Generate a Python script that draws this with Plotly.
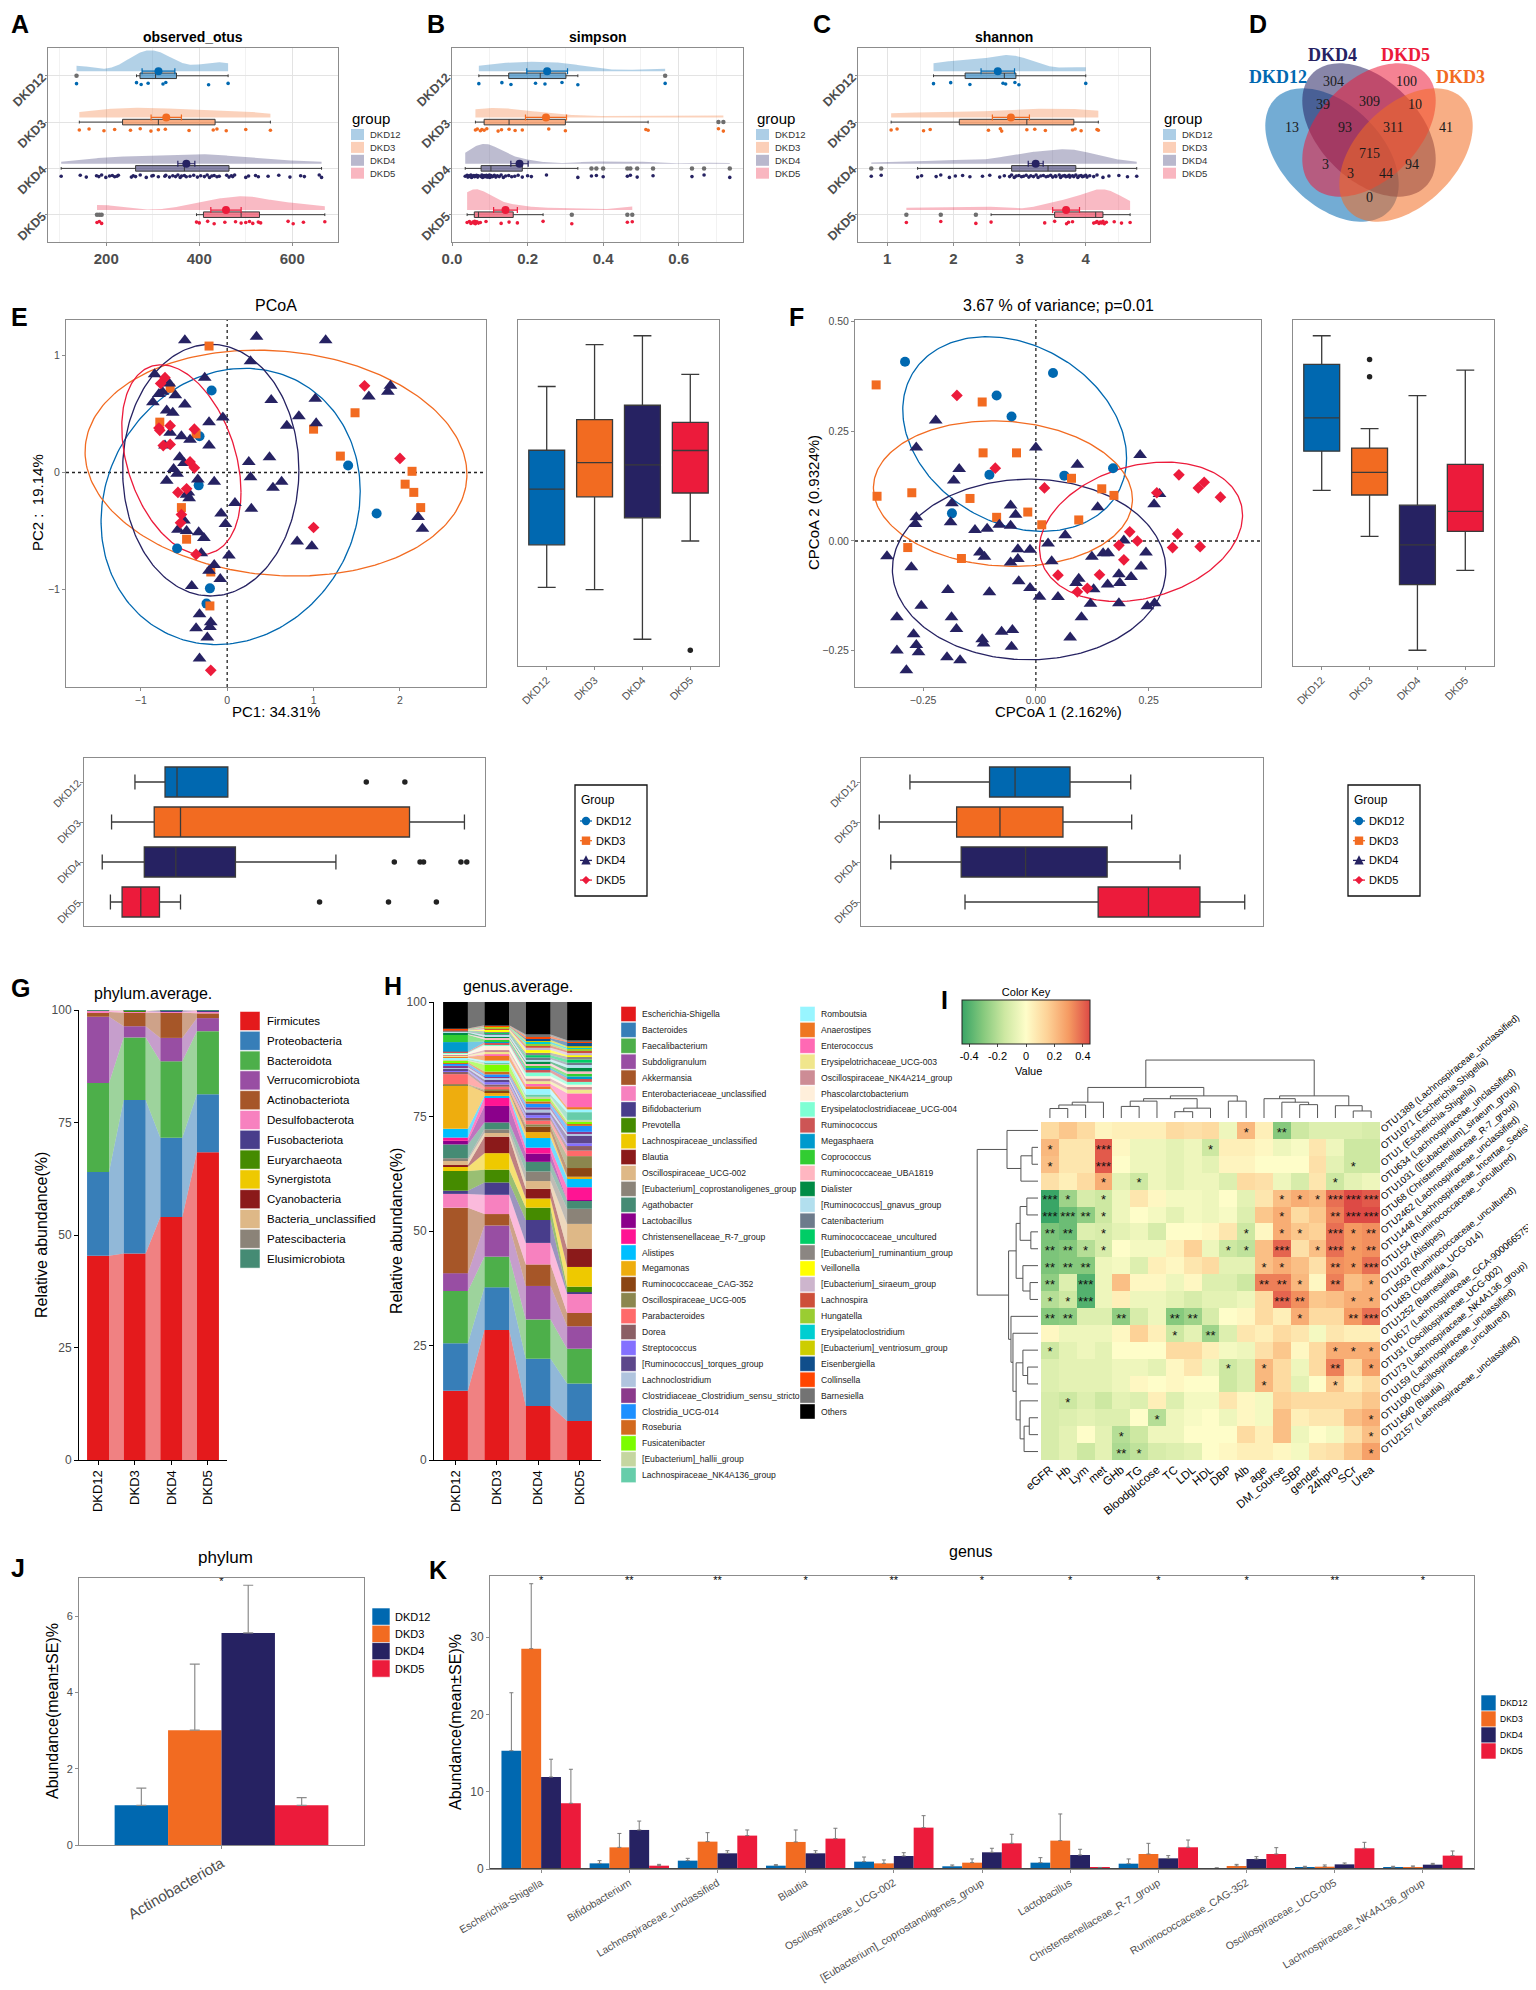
import numpy as np
import plotly.graph_objects as go

W, H = 1536, 1990
FONT = "Liberation Sans, Arial, Helvetica, sans-serif"
NARROW = "Liberation Sans Narrow, Liberation Sans, Arial, sans-serif"
SERIF = "Liberation Serif, Times New Roman, serif"

GROUPS = ["DKD12", "DKD3", "DKD4", "DKD5"]
GROUP_COLORS = ["#0068B0", "#F26B21", "#262262", "#EC1B3B"]

# ---------------- A-C alpha diversity ----------------
otus_DKD12 = [136, 265, 275, 290, 322, 328, 420, 462]
otus_DKD3 = [142, 163, 195, 218, 252, 273, 296, 312, 327, 378, 430, 438, 458, 500, 553]
otus_DKD4 = [103, 144, 157, 179, 184, 190, 199, 207, 213, 218, 223, 226, 254, 258, 263, 273, 286, 298, 301,
             312, 326, 328, 336, 343, 349, 354, 359, 362, 368, 372, 380, 388, 396, 403, 411, 417, 422, 427,
             432, 438, 443, 459, 464, 469, 472, 476, 500, 506, 521, 527, 548, 571, 595, 618, 626, 658, 663]
otus_DKD5 = [180, 185, 190, 394, 400, 418, 432, 455, 478, 490, 500, 508, 515, 527, 532, 591, 602, 624, 670]

simpson_DKD12 = [0.071, 0.132, 0.156, 0.221, 0.246, 0.291, 0.333, 0.564]
simpson_DKD3 = [0.062, 0.067, 0.075, 0.079, 0.085, 0.092, 0.122, 0.131, 0.151, 0.167, 0.186, 0.256, 0.30,
                0.513, 0.519, 0.705, 0.718]
simpson_DKD4 = [0.035, 0.04, 0.042, 0.045, 0.048, 0.05, 0.052, 0.055, 0.058, 0.06, 0.062, 0.065, 0.068, 0.07,
                0.077, 0.079, 0.081, 0.083, 0.085, 0.087, 0.089, 0.091, 0.093, 0.095, 0.097, 0.099, 0.1, 0.102,
                0.103, 0.106, 0.109, 0.112, 0.116, 0.12, 0.125, 0.13, 0.136, 0.142, 0.15, 0.158, 0.166, 0.175,
                0.186, 0.2, 0.21, 0.25, 0.333, 0.369, 0.382, 0.40, 0.464, 0.472, 0.49, 0.532, 0.635, 0.667, 0.735]
simpson_DKD5 = [0.04, 0.046, 0.05, 0.055, 0.058, 0.06, 0.062, 0.064, 0.066, 0.07, 0.075, 0.09, 0.13, 0.151,
                0.173, 0.241, 0.317, 0.464, 0.477]

shannon_DKD12 = [1.70, 1.96, 2.25, 2.75, 2.79, 2.93, 2.99, 4.0]
shannon_DKD3 = [1.06, 1.15, 1.55, 1.65, 2.53, 2.71, 2.73, 3.11, 3.23, 3.39, 3.80, 3.84, 3.93, 4.17, 4.19]
shannon_DKD4 = [0.76, 0.91, 1.46, 1.52, 1.74, 1.81, 1.94, 2.03, 2.14, 2.25, 2.44, 2.55, 2.70, 2.77, 2.85,
                2.88, 2.92, 2.95, 2.99, 3.03, 3.06, 3.10, 3.14, 3.17, 3.21, 3.25, 3.28, 3.32, 3.36, 3.40,
                3.43, 3.47, 3.50, 3.54, 3.55, 3.60, 3.62, 3.65, 3.68, 3.70, 3.72, 3.75, 3.76, 3.80, 3.82,
                3.85, 3.88, 3.90, 3.93, 3.95, 3.97, 4.00, 4.02, 4.06, 4.12, 4.17, 4.26, 4.35, 4.50, 4.63, 4.77]
shannon_DKD5 = [1.29, 1.81, 2.34, 2.57, 3.38, 3.53, 3.71, 3.74, 3.80, 4.12, 4.15, 4.17, 4.20, 4.22, 4.24,
                4.26, 4.28, 4.31, 4.43, 4.54, 4.67]

# ---------------- D Venn ----------------
venn_counts = [304, 100, 39, 309, 10, 13, 93, 311, 41, 715, 3, 94, 3, 44, 0]

# ---------------- E PCoA ----------------
E_DKD12_x = [-0.18, -0.32, -0.33, 1.40, 1.73, -0.58, -0.20, -0.24]
E_DKD12_y = [0.70, 0.31, -0.11, 0.06, -0.35, -0.65, -0.99, -1.12]
E_DKD3_x = [-0.21, -0.66, -0.78, -0.36, 1.00, 1.48, 1.31, 2.14, 2.06, 2.16, 2.24, -0.53, -0.47, -0.19, -0.20]
E_DKD3_y = [1.08, 0.72, 0.43, 0.33, 0.37, 0.51, 0.14, 0.01, -0.10, -0.17, -0.30, -0.30, -0.57, -0.85, -1.14]
E_DKD4_x = [-0.49, 0.34, 1.14, 0.27, -0.84, -0.67, -0.26, 1.89, 1.86, 1.64, -0.75, -0.79, -0.60, 0.51, 1.02,
            -0.86, -0.49, -0.70, -0.63, -0.05, 0.83, -0.21, 0.69, 1.03, -0.66, -0.53, -0.43, -0.21, -0.72,
            0.25, 0.49, -0.55, -0.50, -0.62, -0.58, -0.34, -0.70, -0.15, 0.27, 0.63, 0.53, -0.45, -0.47,
            -0.44, 0.09, -0.07, 0.28, -0.02, -0.50, -0.57, -0.47, -0.33, -0.27, 0.81, 0.98, 2.21, 2.26,
            -0.30, 0.02, -0.15, -0.21, -0.08, -0.41, -0.32, -0.19, -0.36, -0.20, -0.23, -0.32]
E_DKD4_y = [1.13, 1.16, 1.13, 0.95, 0.84, 0.76, 0.81, 0.74, 0.69, 0.65, 0.69, 0.67, 0.66, 0.62, 0.63,
            0.60, 0.58, 0.53, 0.51, 0.47, 0.48, 0.43, 0.40, 0.42, 0.34, 0.31, 0.28, 0.23, 0.23,
            0.09, 0.13, 0.13, 0.08, 0.03, -0.01, -0.06, -0.07, -0.08, -0.04, -0.08, -0.13, -0.17, -0.19,
            -0.22, -0.26, -0.35, -0.31, -0.44, -0.41, -0.49, -0.50, -0.51, -0.56, -0.59, -0.63, -0.38, -0.48,
            -0.69, -0.71, -0.79, -0.84, -0.91, -0.97, -1.21, -1.28, -1.33, -1.32, -1.41, -1.59]
E_DKD5_x = [-0.72, -0.77, -0.66, -0.79, -0.78, -0.74, -0.66, -0.38, -0.43, -0.38, -0.57, -0.47, -0.53, -0.54,
            -0.36, 1.59, 2.00, 1.00, -0.19]
E_DKD5_y = [0.81, 0.76, 0.40, 0.38, 0.36, 0.23, 0.24, 0.37, 0.09, 0.04, -0.17, -0.14, -0.36, -0.43, -0.70,
            0.74, 0.12, -0.47, -1.69]
# ellipse: centre x, centre y, x half-extent, y half-extent, tilt
E_ellipses = [(0.04, -0.29, 1.50, 1.18, 0.11), (0.565, 0.08, 2.21, 0.965, -0.10),
              (-0.19, 0.02, 1.02, 1.075, 0.0), (-0.53, 0.11, 0.69, 0.81, -0.35)]

# ---------------- F CPCoA ----------------
F_DKD12_x = [-0.290, 0.038, -0.087, -0.054, -0.103, 0.063, 0.171, -0.186]
F_DKD12_y = [0.409, 0.383, 0.332, 0.284, 0.151, 0.149, 0.166, 0.063]
F_DKD3_x = [-0.354, -0.119, -0.117, -0.043, -0.352, -0.275, -0.146, -0.087, -0.018, 0.013, 0.079, 0.146,
            0.173, 0.095, -0.284, -0.165]
F_DKD3_y = [0.356, 0.317, 0.201, 0.201, 0.102, 0.110, 0.097, 0.054, 0.066, 0.037, 0.143, 0.119, 0.104,
            0.048, -0.015, -0.040]
F_DKD4_x = [-0.222, -0.265, 0.000, 0.092, 0.231, -0.170, -0.182, -0.056, -0.045, -0.186, -0.265, -0.267,
            -0.189, -0.135, -0.108, -0.081, -0.056, 0.065, 0.137, 0.262, 0.274, 0.195, 0.244, -0.330, -0.276,
            -0.124, -0.114, -0.040, -0.013, -0.040, -0.056, 0.027, 0.035, 0.124, 0.149, 0.160, 0.184, 0.211,
            0.233, 0.186, 0.095, 0.089, 0.128, 0.159, -0.038, -0.013, 0.008, 0.049, -0.195, -0.103, -0.254,
            0.121, 0.184, 0.247, 0.263, -0.308, -0.187, -0.176, 0.101, -0.271, -0.119, -0.076, -0.052, 0.076,
            -0.265, -0.308, -0.260, -0.116, -0.054, -0.197, -0.168, -0.287]
F_DKD4_y = [0.275, 0.213, 0.213, 0.174, 0.196, 0.164, 0.138, 0.081, 0.060, 0.086, 0.054, 0.039, 0.043, 0.025,
            0.028, 0.037, 0.035, 0.013, 0.077, 0.084, 0.107, 0.001, -0.026, -0.035, -0.060, -0.026, -0.036,
            -0.019, -0.020, -0.041, -0.049, -0.006, -0.046, -0.036, -0.028, -0.028, -0.076, -0.082, -0.058,
            -0.096, -0.086, -0.096, -0.110, -0.099, -0.092, -0.107, -0.127, -0.128, -0.112, -0.117, -0.148,
            -0.143, -0.142, -0.149, -0.142, -0.174, -0.174, -0.201, -0.174, -0.213, -0.224, -0.207, -0.203,
            -0.220, -0.237, -0.250, -0.254, -0.234, -0.241, -0.265, -0.272, -0.295]
F_DKD5_x = [-0.175, -0.090, 0.019, 0.268, 0.317, 0.360, 0.373, 0.409, 0.208, 0.225, 0.184, 0.195, 0.314,
            0.364, 0.303, 0.049, 0.141, 0.114, 0.092]
F_DKD5_y = [0.332, 0.166, 0.121, 0.110, 0.151, 0.121, 0.134, 0.100, 0.021, 0.000, -0.010, -0.043, 0.016,
            -0.013, -0.015, -0.078, -0.077, -0.108, -0.116]
F_ellipses = [(-0.047, 0.244, 0.248, 0.222, -0.25), (-0.073, 0.108, 0.287, 0.166, -0.08),
              (-0.015, -0.065, 0.303, 0.206, 0.0), (0.233, 0.021, 0.225, 0.159, 0.24)]

# ---------------- G phylum ----------------
phylum_names = ["Firmicutes", "Proteobacteria", "Bacteroidota", "Verrucomicrobiota", "Actinobacteriota",
                "Desulfobacterota", "Fusobacteriota", "Euryarchaeota", "Synergistota", "Cyanobacteria",
                "Bacteria_unclassified", "Patescibacteria", "Elusimicrobiota"]
phylum_colors = ["#E41A1C", "#377EB8", "#4DAF4A", "#984EA3", "#A65628", "#F781BF", "#483D8B", "#458B00",
                 "#EEC900", "#8B1A1A", "#DEB887", "#8B8378", "#458B74"]
phylum_DKD12 = [45.4, 18.6, 19.8, 14.7, 1.05, 0.30, 0.02, 0.01, 0.01, 0.05, 0.03, 0.01, 0.02]
phylum_DKD3 = [45.9, 34.1, 13.9, 2.5, 3.0, 0.30, 0.05, 0.03, 0.03, 0.05, 0.10, 0.02, 0.02]
phylum_DKD4 = [54.0, 17.6, 17.0, 5.2, 5.6, 0.20, 0.30, 0.02, 0.02, 0.02, 0.02, 0.01, 0.01]
phylum_DKD5 = [68.4, 12.9, 14.0, 2.9, 1.05, 0.50, 0.05, 0.05, 0.05, 0.05, 0.03, 0.01, 0.01]

# ---------------- H genus ----------------
genus_names = ["Escherichia-Shigella", "Bacteroides", "Faecalibacterium", "Subdoligranulum", "Akkermansia",
               "Enterobacteriaceae_unclassified", "Bifidobacterium", "Prevotella", "Lachnospiraceae_unclassified",
               "Blautia", "Oscillospiraceae_UCG-002", "[Eubacterium]_coprostanoligenes_group", "Agathobacter",
               "Lactobacillus", "Christensenellaceae_R-7_group", "Alistipes", "Megamonas",
               "Ruminococcaceae_CAG-352", "Oscillospiraceae_UCG-005", "Parabacteroides", "Dorea",
               "Streptococcus", "[Ruminococcus]_torques_group", "Lachnoclostridium",
               "Clostridiaceae_Clostridium_sensu_stricto", "Clostridia_UCG-014", "Roseburia", "Fusicatenibacter",
               "[Eubacterium]_hallii_group", "Lachnospiraceae_NK4A136_group",
               "Romboutsia", "Anaerostipes", "Enterococcus", "Erysipelotrichaceae_UCG-003",
               "Oscillospiraceae_NK4A214_group", "Phascolarctobacterium", "Erysipelatoclostridiaceae_UCG-004",
               "Ruminococcus", "Megasphaera", "Coprococcus", "Ruminococcaceae_UBA1819", "Dialister",
               "[Ruminococcus]_gnavus_group", "Catenibacterium", "Ruminococcaceae_uncultured",
               "[Eubacterium]_ruminantium_group", "Veillonella", "[Eubacterium]_siraeum_group", "Lachnospira",
               "Hungatella", "Erysipelatoclostridium", "[Eubacterium]_ventriosum_group", "Eisenbergiella",
               "Collinsella", "Barnesiella", "Others"]
genus_colors = ["#E41A1C", "#377EB8", "#4DAF4A", "#984EA3", "#A65628", "#F781BF", "#483D8B", "#458B00",
                "#EEC900", "#8B1A1A", "#DEB887", "#8B8378", "#458B74", "#8B008B", "#FF1493", "#00BFFF",
                "#EEAD0E", "#8B4513", "#8B864E", "#FF6A6A", "#8B5F65", "#8470FF", "#5D478B", "#B0C4DE",
                "#8B3A8B", "#1E90FF", "#D2691E", "#7CFC00", "#C5D6A0", "#66CDAA",
                "#98F5FF", "#EE7621", "#FF69B4", "#F0E68C", "#CD8C95", "#FFEFDB", "#7FFFD4", "#CD5555",
                "#009ACD", "#32CD32", "#FFB6C1", "#008B45", "#B2DFEE", "#6C7B8B", "#00CD66", "#8B8682",
                "#FFFF00", "#CDB5CD", "#CD4F39", "#9ACD32", "#00CED1", "#CDCD00", "#104E8B", "#FF4500",
                "#737373", "#000000"]
genus_DKD12 = [15.1, 10.4, 11.4, 3.9, 14.3, 3.0, 0.7, 4.3, 0.9, 0.4, 1.1, 0.4, 3.0, 0.8, 0.7, 1.9, 9.5, 0.05,
               0.2, 2.2, 0.5, 0.3, 0.4, 0.3, 0.3, 0.5, 0.3, 0.3, 0.2, 0.2,
               0.3, 0.2, 0.1, 0.2, 0.2, 0.3, 0.1, 0.2, 2.1, 1.6, 0.1, 0.4, 0.1, 0.1, 0.1, 0.1, 0.05, 0.05,
               0.05, 0.05, 0.05, 0.05, 0.05, 0.05, 0.05, 5.8]
genus_DKD3 = [28.4, 9.3, 6.7, 6.8, 2.5, 4.2, 2.7, 2.8, 3.6, 3.6, 0.8, 0.8, 1.5, 3.6, 1.9, 0.3, 0.8, 0.3, 0.3,
              0.6, 0.5, 0.5, 0.5, 0.5, 0.3, 0.4, 0.6, 1.5, 0.3, 0.2,
              0.4, 1.1, 0.3, 0.5, 0.4, 1.0, 0.3, 0.4, 0.2, 0.4, 0.4, 0.2, 0.4, 0.3, 0.2, 0.3, 0.3, 0.2, 0.2,
              0.1, 0.1, 0.1, 0.1, 0.1, 0.1, 5.1]
genus_DKD4 = [11.8, 10.3, 8.6, 7.3, 4.7, 4.7, 5.0, 2.7, 2.0, 2.1, 1.7, 2.1, 2.1, 1.8, 1.3, 2.1, 1.3, 1.2, 0.5,
              0.8, 0.6, 0.6, 0.6, 0.6, 0.5, 0.8, 0.5, 0.6, 0.4, 0.5,
              1.2, 0.6, 0.5, 0.6, 0.6, 0.5, 0.8, 0.6, 0.4, 0.5, 0.5, 0.4, 0.5, 0.4, 0.5, 0.5, 0.6, 0.5, 0.5,
              0.4, 0.4, 0.4, 0.4, 0.4, 0.4, 7.1]
genus_DKD5 = [8.5, 8.2, 7.6, 4.9, 2.9, 4.2, 0.35, 1.2, 4.3, 4.0, 5.4, 3.3, 1.8, 0.1, 2.8, 2.0, 0.3, 1.9, 2.6,
              1.2, 1.0, 0.6, 1.6, 0.5, 0.4, 1.3, 0.5, 0.4, 0.4, 1.7,
              0.6, 0.5, 3.0, 0.8, 0.6, 0.5, 0.6, 0.8, 0.4, 0.6, 0.5, 0.8, 0.6, 0.5, 0.7, 0.6, 0.3, 0.6, 0.4,
              0.4, 0.3, 0.3, 0.9, 0.2, 0.2, 8.35]

# ---------------- I heatmap ----------------
heat_cols = ["eGFR", "Hb", "Lym", "met", "GHb", "TG", "Bloodglucose", "TC", "LDL", "HDL", "DBP", "Alb", "age",
             "DM_course", "SBP", "gender", "24hpro", "SCr", "Urea"]
heat_rows = ["OTU1388 (Lachnospiraceae_unclassified)", "OTU1071 (Escherichia-Shigella)",
             "OTU1 (Escherichia-Shigella)", "OTU634 (Lachnospiraceae_unclassified)",
             "OTU1031 ([Eubacterium]_siraeum_group)", "OTU68 (Christensenellaceae_R-7_group)",
             "OTU2462 (Lachnospiraceae_unclassified)", "OTU1448 (Lachnospiraceae_Incertae_Sedis)",
             "OTU154 (Ruminococcaceae_uncultured)", "OTU102 (Alistipes)", "OTU503 (Ruminococcaceae_uncultured)",
             "OTU483 (Clostridia_UCG-014)", "OTU1252 (Barnesiella)", "OTU617 (Lachnospiraceae_GCA-900066575)",
             "OTU31 (Oscillospiraceae_UCG-002)", "OTU73 (Lachnospiraceae_NK4A136_group)",
             "OTU159 (Lachnospiraceae_unclassified)", "OTU100 (Oscillospiraceae_uncultured)",
             "OTU1640 (Blautia)", "OTU2157 (Lachnospiraceae_unclassified)"]
heat_values = [
    [0.12, 0.18, 0.12, 0.03, 0.05, 0.05, 0.05, 0.12, 0.10, 0.12, -0.05, 0.22, 0.05, -0.30, -0.15, -0.10, -0.10, -0.10, -0.12],
    [0.22, 0.08, 0.08, 0.42, 0.02, -0.05, -0.05, -0.08, -0.05, -0.15, 0.05, 0.05, 0.02, -0.05, -0.02, 0.08, -0.05, -0.15, -0.15],
    [0.20, 0.08, 0.08, 0.42, 0.00, -0.05, -0.05, -0.08, -0.05, -0.08, 0.03, 0.03, 0.00, 0.00, 0.00, 0.10, -0.08, -0.15, -0.15],
    [0.10, 0.05, 0.12, 0.25, -0.08, -0.15, -0.05, -0.08, -0.05, -0.05, -0.10, 0.12, 0.10, -0.05, -0.12, 0.08, -0.15, -0.08, -0.05],
    [-0.45, -0.25, -0.12, -0.15, -0.05, 0.08, 0.02, -0.03, -0.03, -0.05, 0.00, -0.08, 0.08, 0.20, 0.25, 0.22, 0.38, 0.45, 0.42],
    [-0.48, -0.35, -0.28, -0.15, -0.05, 0.00, -0.03, -0.08, -0.03, -0.05, -0.02, -0.10, 0.18, 0.25, 0.12, 0.18, 0.35, 0.45, 0.45],
    [-0.32, -0.35, -0.10, -0.12, -0.08, -0.05, -0.12, 0.00, 0.00, 0.02, 0.08, -0.15, 0.02, 0.25, 0.18, 0.15, 0.38, 0.30, 0.32],
    [-0.32, -0.30, -0.20, -0.12, 0.00, -0.03, -0.03, 0.05, 0.15, -0.05, -0.15, -0.18, 0.20, 0.40, 0.10, 0.20, 0.38, 0.30, 0.32],
    [-0.32, -0.30, -0.30, -0.05, -0.03, -0.10, 0.05, 0.02, 0.08, 0.12, -0.08, -0.08, 0.20, 0.25, 0.20, 0.10, 0.32, 0.30, 0.38],
    [-0.28, -0.10, -0.40, -0.05, 0.20, 0.02, 0.02, -0.05, 0.02, -0.10, -0.10, -0.15, 0.35, 0.35, 0.22, 0.02, 0.35, 0.20, 0.25],
    [-0.20, -0.15, -0.40, -0.05, 0.05, -0.05, -0.05, -0.08, -0.12, -0.08, -0.08, -0.05, 0.12, 0.40, 0.32, 0.18, 0.20, 0.25, 0.25],
    [-0.30, -0.28, -0.10, -0.10, -0.28, -0.12, -0.05, -0.30, -0.25, -0.12, 0.00, 0.02, 0.12, 0.05, 0.25, 0.12, 0.12, 0.30, 0.38],
    [0.02, -0.05, -0.05, -0.05, 0.02, 0.15, 0.05, -0.15, -0.08, -0.25, -0.10, 0.08, 0.05, 0.12, 0.08, -0.03, 0.08, 0.05, 0.05],
    [-0.15, -0.08, -0.05, -0.08, 0.00, 0.00, 0.00, 0.12, 0.12, 0.05, -0.03, -0.05, 0.10, 0.18, 0.02, 0.12, 0.25, 0.25, 0.25],
    [-0.10, -0.08, -0.08, -0.08, -0.05, -0.05, -0.08, 0.02, 0.08, -0.05, -0.15, -0.10, 0.22, 0.12, -0.05, 0.12, 0.35, 0.12, 0.28],
    [-0.10, -0.08, -0.08, -0.08, -0.05, 0.02, 0.00, 0.02, 0.00, 0.00, -0.15, -0.10, 0.22, 0.12, -0.08, 0.00, 0.18, 0.05, 0.12],
    [-0.12, -0.15, -0.10, -0.15, -0.08, -0.10, 0.05, -0.10, -0.03, -0.03, 0.08, 0.02, -0.03, 0.15, 0.12, 0.12, 0.12, 0.12, 0.18],
    [-0.12, -0.10, -0.08, -0.10, -0.10, 0.00, -0.20, -0.05, -0.02, 0.00, -0.05, 0.02, -0.03, 0.20, 0.05, 0.08, 0.08, 0.20, 0.25],
    [-0.12, -0.08, 0.00, -0.08, -0.20, -0.15, -0.05, -0.05, 0.00, 0.00, 0.00, 0.12, 0.05, 0.20, -0.05, 0.00, -0.03, 0.10, 0.20],
    [-0.12, -0.08, -0.15, -0.08, -0.22, -0.18, -0.12, -0.10, -0.08, 0.00, 0.02, 0.05, 0.05, 0.02, -0.03, 0.08, 0.10, 0.18, 0.28],
]
heat_stars = [
    {11: "*", 13: "**"},
    {0: "*", 3: "***", 9: "*"},
    {0: "*", 3: "***", 17: "*"},
    {3: "*", 5: "*", 16: "*"},
    {0: "***", 1: "*", 3: "*", 13: "*", 14: "*", 15: "*", 16: "***", 17: "***", 18: "***"},
    {0: "***", 1: "***", 2: "**", 3: "*", 13: "*", 16: "**", 17: "***", 18: "***"},
    {0: "**", 1: "**", 3: "*", 11: "*", 13: "*", 14: "*", 16: "***", 17: "*", 18: "**"},
    {0: "**", 1: "**", 2: "*", 3: "*", 10: "*", 11: "*", 13: "***", 15: "*", 16: "***", 17: "*", 18: "**"},
    {0: "**", 1: "**", 2: "**", 12: "*", 13: "*", 16: "**", 17: "*", 18: "***"},
    {0: "**", 2: "***", 12: "**", 13: "**", 14: "*", 16: "**", 18: "*"},
    {0: "*", 1: "*", 2: "***", 13: "***", 14: "**", 17: "*", 18: "*"},
    {0: "**", 1: "**", 4: "**", 7: "**", 8: "**", 14: "*", 17: "**", 18: "***"},
    {7: "*", 9: "**"},
    {0: "*", 16: "*", 17: "*", 18: "*"},
    {10: "*", 12: "*", 16: "**", 18: "*"},
    {12: "*", 16: "*"},
    {1: "*"},
    {6: "*", 18: "*"},
    {4: "*", 18: "*"},
    {4: "**", 5: "*", 18: "*"},
]
# dendrogram merges: (node a, node b, height)
col_merges = [(0, 1, 27), (19, 2, 37), (20, 3, 45), (4, 5, 33), (22, 6, 48), (7, 8, 18), (24, 9, 28),
              (23, 25, 55), (10, 11, 48), (26, 27, 63), (21, 28, 87), (14, 15, 38), (13, 30, 45), (12, 31, 55),
              (17, 18, 20), (16, 33, 35), (32, 34, 63), (29, 35, 165)]
row_merges = [(1, 2, 15), (20, 3, 43), (0, 21, 78), (4, 5, 28), (6, 7, 18), (23, 24, 45), (9, 10, 20),
              (8, 26, 38), (25, 27, 55), (14, 15, 26), (13, 29, 38), (17, 18, 22), (31, 19, 35), (16, 32, 45),
              (30, 33, 55), (12, 34, 63), (11, 35, 68), (28, 36, 74), (22, 37, 153)]

# ---------------- J phylum bar ----------------
J_taxon = ["Actinobacteriota"]
J_mean = [1.04, 3.01, 5.56, 1.04]
J_se = [0.45, 1.73, 1.25, 0.20]
J_sig = ["*"]

# ---------------- K genus bar ----------------
K_taxa = ["Escherichia-Shigella", "Bifidobacterium", "Lachnospiraceae_unclassified", "Blautia",
          "Oscillospiraceae_UCG-002", "[Eubacterium]_coprostanoligenes_group", "Lactobacillus",
          "Christensenellaceae_R-7_group", "Ruminococcaceae_CAG-352", "Oscillospiraceae_UCG-005",
          "Lachnospiraceae_NK4A136_group"]
K_mean_DKD12 = [15.3, 0.73, 1.08, 0.43, 0.95, 0.35, 0.82, 0.69, 0.09, 0.22, 0.22]
K_mean_DKD3 = [28.5, 2.80, 3.54, 3.50, 0.73, 0.82, 3.67, 1.94, 0.39, 0.30, 0.26]
K_mean_DKD4 = [11.9, 5.05, 2.03, 2.03, 1.68, 2.16, 1.81, 1.38, 1.29, 0.60, 0.56]
K_mean_DKD5 = [8.5, 0.43, 4.32, 3.93, 5.35, 3.32, 0.13, 2.81, 1.94, 2.68, 1.73]
K_se_DKD12 = [7.5, 0.35, 0.30, 0.13, 0.60, 0.17, 0.65, 0.61, 0.06, 0.13, 0.13]
K_se_DKD3 = [8.4, 1.80, 1.16, 1.55, 0.44, 0.48, 3.45, 1.38, 0.21, 0.22, 0.13]
K_se_DKD4 = [2.3, 1.15, 0.34, 0.34, 0.43, 0.52, 0.74, 0.35, 0.31, 0.18, 0.17]
K_se_DKD5 = [4.4, 0.17, 0.73, 1.34, 1.55, 1.17, 0.07, 0.94, 0.82, 0.77, 0.60]
K_sig = ["*", "**", "**", "*", "**", "*", "*", "*", "*", "**", "*"]

# =====================================================================
fig = go.Figure()
AX = {}
ANN = []
SHP = []
_n = [0]


def add_axes(x0, x1, y0, y1, xa, ya):
    _n[0] += 1
    s = "" if _n[0] == 1 else str(_n[0])
    xa = dict(xa)
    ya = dict(ya)
    xa.update(domain=[x0 / W, x1 / W], anchor="y" + s, fixedrange=True, automargin=False)
    ya.update(domain=[1 - y1 / H, 1 - y0 / H], anchor="x" + s, fixedrange=True, automargin=False)
    AX["xaxis" + s] = xa
    AX["yaxis" + s] = ya
    return "x" + s, "y" + s


def rgba(c, a):
    c = c.lstrip("#")
    return "rgba(%d,%d,%d,%.3f)" % (int(c[0:2], 16), int(c[2:4], 16), int(c[4:6], 16), a)


def txt(x, y, s, size=12, color="#000000", xanchor="center", yanchor="middle", angle=0, family=FONT,
        weight="normal"):
    ANN.append(dict(x=x / W, y=1 - y / H, xref="paper", yref="paper", text=s, showarrow=False,
                    xanchor=xanchor, yanchor=yanchor, textangle=angle, borderpad=0,
                    font=dict(size=size, color=color, family=family, weight=weight)))


def prect(x0, y0, x1, y1, fill, line="rgba(0,0,0,0)", lw=0):
    SHP.append(dict(type="rect", xref="paper", yref="paper", x0=x0 / W, x1=x1 / W, y0=1 - y1 / H,
                    y1=1 - y0 / H, fillcolor=fill, line=dict(color=line, width=lw), layer="above"))


def ppath(pts, fill, line="rgba(0,0,0,0)", lw=0):
    d = "M " + " L ".join("%.5f,%.5f" % (x / W, 1 - y / H) for x, y in pts) + " Z"
    SHP.append(dict(type="path", xref="paper", yref="paper", path=d, fillcolor=fill,
                    line=dict(color=line, width=lw), layer="above"))


def pline(x0, y0, x1, y1, color, lw=1):
    SHP.append(dict(type="line", xref="paper", yref="paper", x0=x0 / W, x1=x1 / W, y0=1 - y0 / H,
                    y1=1 - y1 / H, line=dict(color=color, width=lw), layer="above"))


def letter(x, y, s):
    txt(x, y, s, size=25, family=FONT, weight="bold", xanchor="left")


def expand(vals, f=0.05):
    lo, hi = float(np.min(vals)), float(np.max(vals))
    sp = hi - lo
    return [lo - f * sp, hi + f * sp]


def bw_nrd0(v):
    v = np.asarray(v, float)
    sd = v.std(ddof=1)
    q75, q25 = np.percentile(v, [75, 25])
    lo = min(sd, (q75 - q25) / 1.34)
    if lo <= 0:
        lo = sd
    return 0.9 * lo * len(v) ** -0.2


def box_stats(v):
    v = np.sort(np.asarray(v, float))
    q1, med, q3 = np.percentile(v, [25, 50, 75])
    iqr = q3 - q1
    ok = (v >= q1 - 1.5 * iqr) & (v <= q3 + 1.5 * iqr)
    return q1, med, q3, min(v[ok].min(), q1), max(v[ok].max(), q3), v[~ok]


GRAYTXT = "#4d4d4d"
FRAMEC = "#8c8c8c"
JIT = [0.0, 0.022, -0.018, 0.01, -0.008, 0.026, -0.025, 0.005, 0.016, -0.012]


# ---------------- A-C raincloud panels ----------------
def raincloud(x0, x1, series, dtick, fmt, title, leg_x):
    allv = np.concatenate([np.asarray(s, float) for s in series])
    xr = expand(allv)
    xa = dict(range=xr, tick0=0, dtick=dtick, tickformat=fmt, showgrid=True, gridcolor="#e3e3e3",
              minor=dict(dtick=dtick / 2, showgrid=True, gridcolor="#f2f2f2"),
              showline=True, mirror=True, linecolor=FRAMEC, ticks="outside", ticklen=3, tickcolor=FRAMEC,
              tickfont=dict(size=15, color=GRAYTXT, family=NARROW, weight="bold"), zeroline=False)
    ya = dict(range=[0.41, 4.6], tickvals=[4, 3, 2, 1], ticktext=GROUPS, tickangle=-45, showgrid=True,
              gridcolor="#e3e3e3", showline=True, mirror=True, linecolor=FRAMEC, ticks="outside", ticklen=2,
              tickcolor=FRAMEC, tickfont=dict(size=12.5, color=GRAYTXT, family=FONT, weight="bold"),
              zeroline=False)
    xr_, yr_ = add_axes(x0, x1, 40, 234, xa, ya)
    dens = []
    for s in series:
        v = np.asarray(s, float)
        g = np.linspace(v.min(), v.max(), 256)
        bw = bw_nrd0(v)
        d = np.exp(-0.5 * ((g[:, None] - v[None, :]) / bw) ** 2).sum(1) / (len(v) * bw * np.sqrt(2 * np.pi))
        dens.append((g, d))
    dmax = max(d.max() for g, d in dens)
    for i, s in enumerate(series):
        v = np.asarray(s, float)
        pos = 4 - i
        col = GROUP_COLORS[i]
        g, d = dens[i]
        base = pos + 0.1
        fig.add_trace(go.Scatter(x=np.concatenate([g, g[::-1]]),
                                 y=np.concatenate([base + 0.45 * d / dmax, np.full(len(g), base)]),
                                 fill="toself", mode="lines", line=dict(width=0, color="rgba(0,0,0,0)"),
                                 fillcolor=rgba(col, 0.3), xaxis=xr_, yaxis=yr_, hoverinfo="skip"))
        q1, med, q3, lo, hi, out = box_stats(v)
        fig.add_trace(go.Box(y=[pos], q1=[q1], median=[med], q3=[q3], lowerfence=[lo], upperfence=[hi],
                             orientation="h", width=0.12, fillcolor=rgba(col, 0.55),
                             line=dict(color="#3a3a3a", width=1), boxpoints=False, xaxis=xr_, yaxis=yr_))
        if len(out):
            fig.add_trace(go.Scatter(x=out, y=[pos] * len(out), mode="markers",
                                     marker=dict(color="#6e6e6e", size=4.5), xaxis=xr_, yaxis=yr_))
        jy = [pos - 0.17 + JIT[k % len(JIT)] for k in range(len(v))]
        fig.add_trace(go.Scatter(x=v, y=jy, mode="markers", marker=dict(color=col, size=3.6),
                                 xaxis=xr_, yaxis=yr_))
        se = v.std(ddof=1) / np.sqrt(len(v))
        fig.add_trace(go.Scatter(x=[v.mean()], y=[pos + 0.1], mode="markers",
                                 marker=dict(color=col, size=8),
                                 error_x=dict(type="data", array=[se], color=col, thickness=1.2, width=3),
                                 xaxis=xr_, yaxis=yr_))
    txt((x0 + x1) / 2, 29, title, size=14, family=NARROW, weight="bold")
    txt(leg_x, 110, "group", size=15, family=NARROW, xanchor="left")
    for i in range(4):
        yk = 121 + i * 12.9
        prect(leg_x, yk, leg_x + 13, yk + 11, rgba(GROUP_COLORS[i], 0.32))
        txt(leg_x + 18, yk + 5.5, GROUPS[i], size=9.5, color="#333333", xanchor="left", family=NARROW)


raincloud(40, 330, [otus_DKD12, otus_DKD3, otus_DKD4, otus_DKD5], 200, "d", "observed_otus", 343)
raincloud(444, 735, [simpson_DKD12, simpson_DKD3, simpson_DKD4, simpson_DKD5], 0.2, ".1f", "simpson", 748)
raincloud(850, 1142, [shannon_DKD12, shannon_DKD3, shannon_DKD4, shannon_DKD5], 1, "d", "shannon", 1155)
letter(2, 16, "A")
letter(418, 16, "B")
letter(804, 16, "C")
letter(1240, 16, "D")

# ---------------- D Venn ----------------
venn_geom = [(0, 1324, 147, 45), (2, 1361, 122, 45), (3, 1361, 122, 135), (1, 1398, 147, 135)]
t = np.linspace(0, 2 * np.pi, 120)
for gi, cx, cy, ang in venn_geom:
    th = np.deg2rad(ang)
    a, b = 80.0, 50.0
    ex = cx + a * np.cos(t) * np.cos(th) - b * np.sin(t) * np.sin(th)
    ey = cy + a * np.cos(t) * np.sin(th) + b * np.sin(t) * np.cos(th)
    ppath(list(zip(ex, ey)), rgba(GROUP_COLORS[gi], 0.55))
venn_label_pos = [(1270, 69), (1452, 69), (1324, 47), (1397, 47)]
for gi in range(4):
    txt(venn_label_pos[gi][0], venn_label_pos[gi][1], GROUPS[gi], size=18, color=GROUP_COLORS[gi],
        family=SERIF, weight="bold")
venn_pos = [(1325, 74), (1398, 74), (1315, 97), (1361, 93), (1407, 97), (1284, 119), (1337, 119), (1385, 119),
            (1438, 119), (1361, 145), (1317, 157), (1404, 157), (1342, 166), (1378, 166), (1361, 190)]
for cnt, (vx, vy) in zip(venn_counts, venn_pos):
    txt(vx, vy, str(cnt), size=14, color="#1a1a1a", family=SERIF)

# ---------------- E / F ordination ----------------
SYMS = ["circle", "square", "triangle-up", "diamond"]
SYM_SIZE = [10, 9, 12, 9]


def ordination(x0, x1, pts, ells, dtick, fmt, title, xlab, ylab, ylab_x, bx0, bx1, cx0, cx1, leg_x):
    t = np.linspace(0, 2 * np.pi, 240)
    allx, ally, exy = [], [], []
    for g in range(4):
        cx, cy, rx, ry, ph = ells[g]
        ex = cx + rx * np.cos(t)
        ey = cy + ry * np.sin(t + ph)
        exy.append((ex, ey))
        allx += list(ex) + list(pts[g][0])
        ally += list(ey) + list(pts[g][1])
    xr = expand(allx)
    yr = expand(ally)
    tf = dict(size=10.5, color=GRAYTXT, family=NARROW)
    base = dict(showline=True, mirror=True, linecolor=FRAMEC, ticks="outside", ticklen=3, tickcolor=FRAMEC,
                zeroline=False, showgrid=False, tickfont=tf)
    xs_, ys_ = add_axes(x0, x1, 312, 679, dict(base, range=xr, tick0=0, dtick=dtick, tickformat=fmt),
                        dict(base, range=yr, tick0=0, dtick=dtick, tickformat=fmt))
    SHP.append(dict(type="line", xref=xs_, yref=ys_, x0=0, x1=0, y0=yr[0], y1=yr[1], layer="below",
                    line=dict(color="#222222", width=1.3, dash="dot")))
    SHP.append(dict(type="line", xref=xs_, yref=ys_, x0=xr[0], x1=xr[1], y0=0, y1=0, layer="below",
                    line=dict(color="#222222", width=1.3, dash="dot")))
    for g in range(4):
        fig.add_trace(go.Scatter(x=exy[g][0], y=exy[g][1], mode="lines",
                                 line=dict(color=GROUP_COLORS[g], width=1.3), xaxis=xs_, yaxis=ys_))
    for g in range(4):
        fig.add_trace(go.Scatter(x=pts[g][0], y=pts[g][1], mode="markers",
                                 marker=dict(symbol=SYMS[g], size=SYM_SIZE[g], color=GROUP_COLORS[g]),
                                 xaxis=xs_, yaxis=ys_))
    txt((x0 + x1) / 2, 297, title, size=16, family=NARROW)
    txt((x0 + x1) / 2, 703, xlab, size=15, family=NARROW)
    txt(ylab_x, 495, ylab, size=15, angle=-90, family=FONT)
    # side boxplot of axis 2
    yb = expand([v for g in range(4) for v in pts[g][1]])
    xb_, yb_ = add_axes(bx0, bx1, 312, 658,
                        dict(base, range=[-0.6, 3.6], tickvals=[0, 1, 2, 3], ticktext=GROUPS, tickangle=-45),
                        dict(base, range=yb, showticklabels=False, ticks=""))
    for g in range(4):
        q1, med, q3, lo, hi, out = box_stats(pts[g][1])
        fig.add_trace(go.Box(x=[g], q1=[q1], median=[med], q3=[q3], lowerfence=[lo], upperfence=[hi],
                             width=0.75, fillcolor=GROUP_COLORS[g], line=dict(color="#3a3a3a", width=1.3),
                             boxpoints=False, xaxis=xb_, yaxis=yb_))
        if len(out):
            fig.add_trace(go.Scatter(x=[g] * len(out), y=out, mode="markers",
                                     marker=dict(color="#222222", size=5.5), xaxis=xb_, yaxis=yb_))
    # bottom boxplot of axis 1
    xb2 = expand([v for g in range(4) for v in pts[g][0]])
    xc_, yc_ = add_axes(cx0, cx1, 750, 918,
                        dict(base, range=xb2, showticklabels=False, ticks=""),
                        dict(base, range=[-0.6, 3.6], tickvals=[3, 2, 1, 0], ticktext=GROUPS, tickangle=-45))
    for g in range(4):
        q1, med, q3, lo, hi, out = box_stats(pts[g][0])
        fig.add_trace(go.Box(y=[3 - g], q1=[q1], median=[med], q3=[q3], lowerfence=[lo], upperfence=[hi],
                             orientation="h", width=0.75, fillcolor=GROUP_COLORS[g],
                             line=dict(color="#3a3a3a", width=1.3), boxpoints=False, xaxis=xc_, yaxis=yc_))
        if len(out):
            fig.add_trace(go.Scatter(x=out, y=[3 - g] * len(out), mode="markers",
                                     marker=dict(color="#222222", size=5.5), xaxis=xc_, yaxis=yc_))
    # legend
    prect(leg_x, 777, leg_x + 72, 888, "rgba(0,0,0,0)", "#111111", 1.3)
    txt(leg_x + 5, 792, "Group", size=12, xanchor="left", family=NARROW)
    for g in range(4):
        yy = 813 + g * 19.7
        mx = leg_x + 11
        pline(mx - 6, yy, mx + 6, yy, GROUP_COLORS[g], 1.3)
        r = 4.2
        c = GROUP_COLORS[g]
        if g == 0:
            SHP.append(dict(type="circle", xref="paper", yref="paper", x0=(mx - r) / W, x1=(mx + r) / W,
                            y0=1 - (yy + r) / H, y1=1 - (yy - r) / H, fillcolor=c, line=dict(width=0),
                            layer="above"))
        elif g == 1:
            prect(mx - r, yy - r, mx + r, yy + r, c)
        elif g == 2:
            ppath([(mx, yy - r - 1), (mx + r + 0.5, yy + r), (mx - r - 0.5, yy + r)], c)
        else:
            ppath([(mx, yy - r), (mx + r, yy), (mx, yy + r), (mx - r, yy)], c)
        txt(mx + 9, yy, GROUPS[g], size=11, xanchor="left", family=NARROW)


ordination(58, 478,
           [(E_DKD12_x, E_DKD12_y), (E_DKD3_x, E_DKD3_y), (E_DKD4_x, E_DKD4_y), (E_DKD5_x, E_DKD5_y)],
           E_ellipses, 1, "d", "PCoA", "PC1: 34.31%", "PC2 :  19.14%", 29, 510, 711, 76, 477, 567)
ordination(847, 1253,
           [(F_DKD12_x, F_DKD12_y), (F_DKD3_x, F_DKD3_y), (F_DKD4_x, F_DKD4_y), (F_DKD5_x, F_DKD5_y)],
           F_ellipses, 0.25, ".2f", "3.67 % of variance; p=0.01", "CPCoA 1 (2.162%)", "CPCoA 2 (0.9324%)",
           805, 1285, 1486, 853, 1255, 1340)
letter(2, 309, "E")
letter(780, 309, "F")


# ---------------- G / H stacked bars ----------------
def stacked(x0, x1, y0, y1, colors, group_vals):
    vals = np.array(group_vals, float).T
    bottoms = np.vstack([np.zeros(4), np.cumsum(vals, axis=0)[:-1]])
    tops = bottoms + vals
    ax = dict(showline=True, linecolor="#000000", linewidth=1, ticks="outside", ticklen=4, tickcolor="#000000",
              zeroline=False, showgrid=False)
    xr_, yr_ = add_axes(x0, x1, y0, y1,
                        dict(ax, range=[0.48, 4.52], tickvals=[1, 2, 3, 4], ticktext=GROUPS, tickangle=-90,
                             tickfont=dict(size=13, color="#000000", family=FONT)),
                        dict(ax, range=[0, 100], tickvals=[0, 25, 50, 75, 100],
                             tickfont=dict(size=12, color=GRAYTXT, family=FONT)))
    for j in range(vals.shape[0]):
        xs, ys = [], []
        for i in range(3):
            xs += [i + 1.3, i + 1.3, i + 1.7, i + 1.7, None]
            ys += [bottoms[j, i], tops[j, i], tops[j, i + 1], bottoms[j, i + 1], None]
        fig.add_trace(go.Scatter(x=xs, y=ys, fill="toself", mode="lines",
                                 line=dict(width=0, color="rgba(0,0,0,0)"), fillcolor=rgba(colors[j], 0.55),
                                 xaxis=xr_, yaxis=yr_, hoverinfo="skip"))
        fig.add_trace(go.Bar(x=[1, 2, 3, 4], y=vals[j], base=bottoms[j], width=0.6,
                             marker=dict(color=colors[j], line=dict(width=0)), xaxis=xr_, yaxis=yr_))


stacked(71, 219, 1002, 1452, phylum_colors, [phylum_DKD12, phylum_DKD3, phylum_DKD4, phylum_DKD5])
txt(145, 985, "phylum.average.", size=16)
txt(33, 1227, "Relative abundance(%)", size=16, angle=-90)
for j, nm in enumerate(phylum_names):
    yy = 1013 + j * 19.8
    prect(232, yy - 9.5, 252, yy + 9.5, phylum_colors[j], "#ffffff", 0.5)
    txt(258, yy, nm, size=11.5, xanchor="left")
letter(2, 980, "G")

stacked(426, 593, 994, 1452, genus_colors, [genus_DKD12, genus_DKD3, genus_DKD4, genus_DKD5])
txt(510, 978, "genus.average.", size=16)
txt(388, 1223, "Relative abundance(%)", size=16, angle=-90)
for j, nm in enumerate(genus_names):
    colx = 613 if j < 30 else 792
    yy = 1006 + (j if j < 30 else j - 30) * 15.9
    prect(colx, yy - 7.5, colx + 15, yy + 7.5, genus_colors[j], "#ffffff", 0.4)
    txt(colx + 20, yy, nm, size=8.6, xanchor="left", color="#222222")
letter(375, 978, "H")

# ---------------- I heatmap ----------------
hx0, hx1, hy0, hy1 = 1033, 1372, 1114, 1452
xh, yh = add_axes(hx0, hx1, hy0, hy1,
                  dict(range=[-0.5, 18.5], tickvals=list(range(19)), ticktext=heat_cols, tickangle=-40,
                       tickfont=dict(size=11.5, color="#000000", family=FONT), showline=False, ticks="",
                       zeroline=False, showgrid=False),
                  dict(range=[19.5, -0.5], tickvals=list(range(20)), ticktext=heat_rows, side="right",
                       tickangle=-40, tickfont=dict(size=9.5, color="#000000", family=FONT), showline=False,
                       ticks="", zeroline=False, showgrid=False))
heat_scale = [[0.0, "#39A566"], [0.1667, "#86C97D"], [0.3333, "#CDE8A2"], [0.5, "#FEFDC9"],
              [0.6667, "#FDD297"], [0.8333, "#F59A62"], [1.0, "#DD4A45"]]
fig.add_trace(go.Heatmap(z=heat_values, x=list(range(19)), y=list(range(20)), colorscale=heat_scale,
                         zmin=-0.45, zmax=0.45, xaxis=xh, yaxis=yh, xgap=0, ygap=0,
                         colorbar=dict(orientation="h", x=1018 / W, xanchor="center", y=1 - 980 / H,
                                       yanchor="top", len=128, lenmode="pixels", thickness=44,
                                       thicknessmode="pixels", xpad=0, ypad=0,
                                       tickvals=[-0.4, -0.2, 0, 0.2, 0.4],
                                       ticktext=["-0.4", "-0.2", "0", "0.2", "0.4"], ticks="outside",
                                       ticklen=3, outlinecolor="#222222", outlinewidth=1,
                                       tickfont=dict(size=11, family=FONT),
                                       title=dict(text="Color Key", side="top", font=dict(size=11, family=FONT)))))
sx, sy, st = [], [], []
for r, row in enumerate(heat_stars):
    for c, s in row.items():
        sx.append(c)
        sy.append(r + 0.18)
        st.append(s)
fig.add_trace(go.Scatter(x=sx, y=sy, mode="text", text=st, textfont=dict(size=13, color="#111111", family=FONT),
                         xaxis=xh, yaxis=yh))
txt(1020, 1063, "Value", size=11)
letter(932, 992, "I")


def dendro(n, merges):
    pos = {i: float(i) for i in range(n)}
    hgt = {i: 0.0 for i in range(n)}
    a_, b_ = [], []
    for k, (a, b, hh) in enumerate(merges):
        a_ += [pos[a], pos[a], pos[b], pos[b], None]
        b_ += [hgt[a], hh, hh, hgt[b], None]
        pos[n + k] = (pos[a] + pos[b]) / 2
        hgt[n + k] = hh
    return a_, b_


hid = dict(visible=False, showgrid=False, zeroline=False)
dxc, dyc = add_axes(hx0, hx1, 1051, 1110, dict(hid, range=[-0.5, 18.5]), dict(hid, range=[0, 168]))
cxs, cys = dendro(19, col_merges)
fig.add_trace(go.Scatter(x=cxs, y=cys, mode="lines", line=dict(color="#555555", width=1), xaxis=dxc, yaxis=dyc))
dxr, dyr = add_axes(968, 1030, hy0, hy1, dict(hid, range=[156, 0]), dict(hid, range=[19.5, -0.5]))
rxs, rys = dendro(20, row_merges)
fig.add_trace(go.Scatter(x=rys, y=rxs, mode="lines", line=dict(color="#555555", width=1), xaxis=dxr, yaxis=dyr))

# ---------------- J / K bar charts ----------------
barax = dict(showline=True, mirror=True, linecolor=FRAMEC, ticks="outside", ticklen=3, tickcolor=FRAMEC,
             zeroline=False, showgrid=False)
xj, yj = add_axes(71, 356, 1570, 1837,
                  dict(barax, range=[0.4, 1.6], tickvals=[1], ticktext=J_taxon, tickangle=-30,
                       tickfont=dict(size=15, color=GRAYTXT, family=FONT)),
                  dict(barax, range=[0, 7.0], tickvals=[0, 2, 4, 6],
                       tickfont=dict(size=11, color=GRAYTXT, family=FONT)))
for g in range(4):
    fig.add_trace(go.Bar(x=[1 + (g - 1.5) * 0.225], y=[J_mean[g]], width=0.225,
                         marker=dict(color=GROUP_COLORS[g], line=dict(width=0)),
                         error_y=dict(type="data", array=[J_se[g]], arrayminus=[0], symmetric=False,
                                      color="#8c8c8c", thickness=1.2, width=5), xaxis=xj, yaxis=yj))
fig.add_trace(go.Scatter(x=[1], y=[6.88], mode="text", text=J_sig, textfont=dict(size=11), xaxis=xj, yaxis=yj))
txt(217, 1549, "phylum", size=17)
txt(44, 1703, "Abundance(mean±SE)%", size=16, angle=-90)
for g in range(4):
    yy = 1600 + g * 17.3
    prect(364, yy, 382, yy + 17.3, GROUP_COLORS[g], "#ffffff", 0.6)
    txt(386, yy + 8.6, GROUPS[g], size=11, xanchor="left")
letter(2, 1560, "J")

xk, yk = add_axes(482, 1466, 1568, 1861,
                  dict(barax, range=[0.42, 11.58], tickvals=list(range(1, 12)), ticktext=K_taxa, tickangle=-31,
                       tickfont=dict(size=10.5, color=GRAYTXT, family=FONT)),
                  dict(barax, range=[0, 37.9], tickvals=[0, 10, 20, 30],
                       tickfont=dict(size=12, color=GRAYTXT, family=NARROW)))
K_means = [K_mean_DKD12, K_mean_DKD3, K_mean_DKD4, K_mean_DKD5]
K_ses = [K_se_DKD12, K_se_DKD3, K_se_DKD4, K_se_DKD5]
kx = np.arange(1, 12)
for g in range(4):
    fig.add_trace(go.Bar(x=kx + (g - 1.5) * 0.225, y=K_means[g], width=0.225,
                         marker=dict(color=GROUP_COLORS[g], line=dict(width=0)),
                         error_y=dict(type="data", array=K_ses[g], arrayminus=[0] * 11, symmetric=False,
                                      color="#7a7a7a", thickness=1, width=2), xaxis=xk, yaxis=yk))
fig.add_trace(go.Scatter(x=kx, y=[37.2] * 11, mode="text", text=K_sig, textfont=dict(size=11),
                         xaxis=xk, yaxis=yk))
SHP.append(dict(type="line", xref=xk, yref=yk, x0=0.42, x1=11.58, y0=0, y1=0,
                line=dict(color="#444444", width=2)))
txt(963, 1543, "genus", size=16, family=NARROW)
txt(447, 1714, "Abundance(mean±SE)%", size=16, angle=-90)
for g in range(4):
    yy = 1687 + g * 16
    prect(1473, yy, 1488, yy + 16, GROUP_COLORS[g], "#ffffff", 0.6)
    txt(1491, yy + 8, GROUPS[g], size=8.5, xanchor="left", family=FONT)
letter(420, 1562, "K")

fig.update_layout(width=W, height=H, margin=dict(l=0, r=0, t=0, b=0, autoexpand=False), paper_bgcolor="white",
                  plot_bgcolor="rgba(0,0,0,0)", showlegend=False, barmode="overlay",
                  font=dict(family=FONT, color="#000000"), annotations=ANN, shapes=SHP, **AX)
fig.write_html("out.html")
